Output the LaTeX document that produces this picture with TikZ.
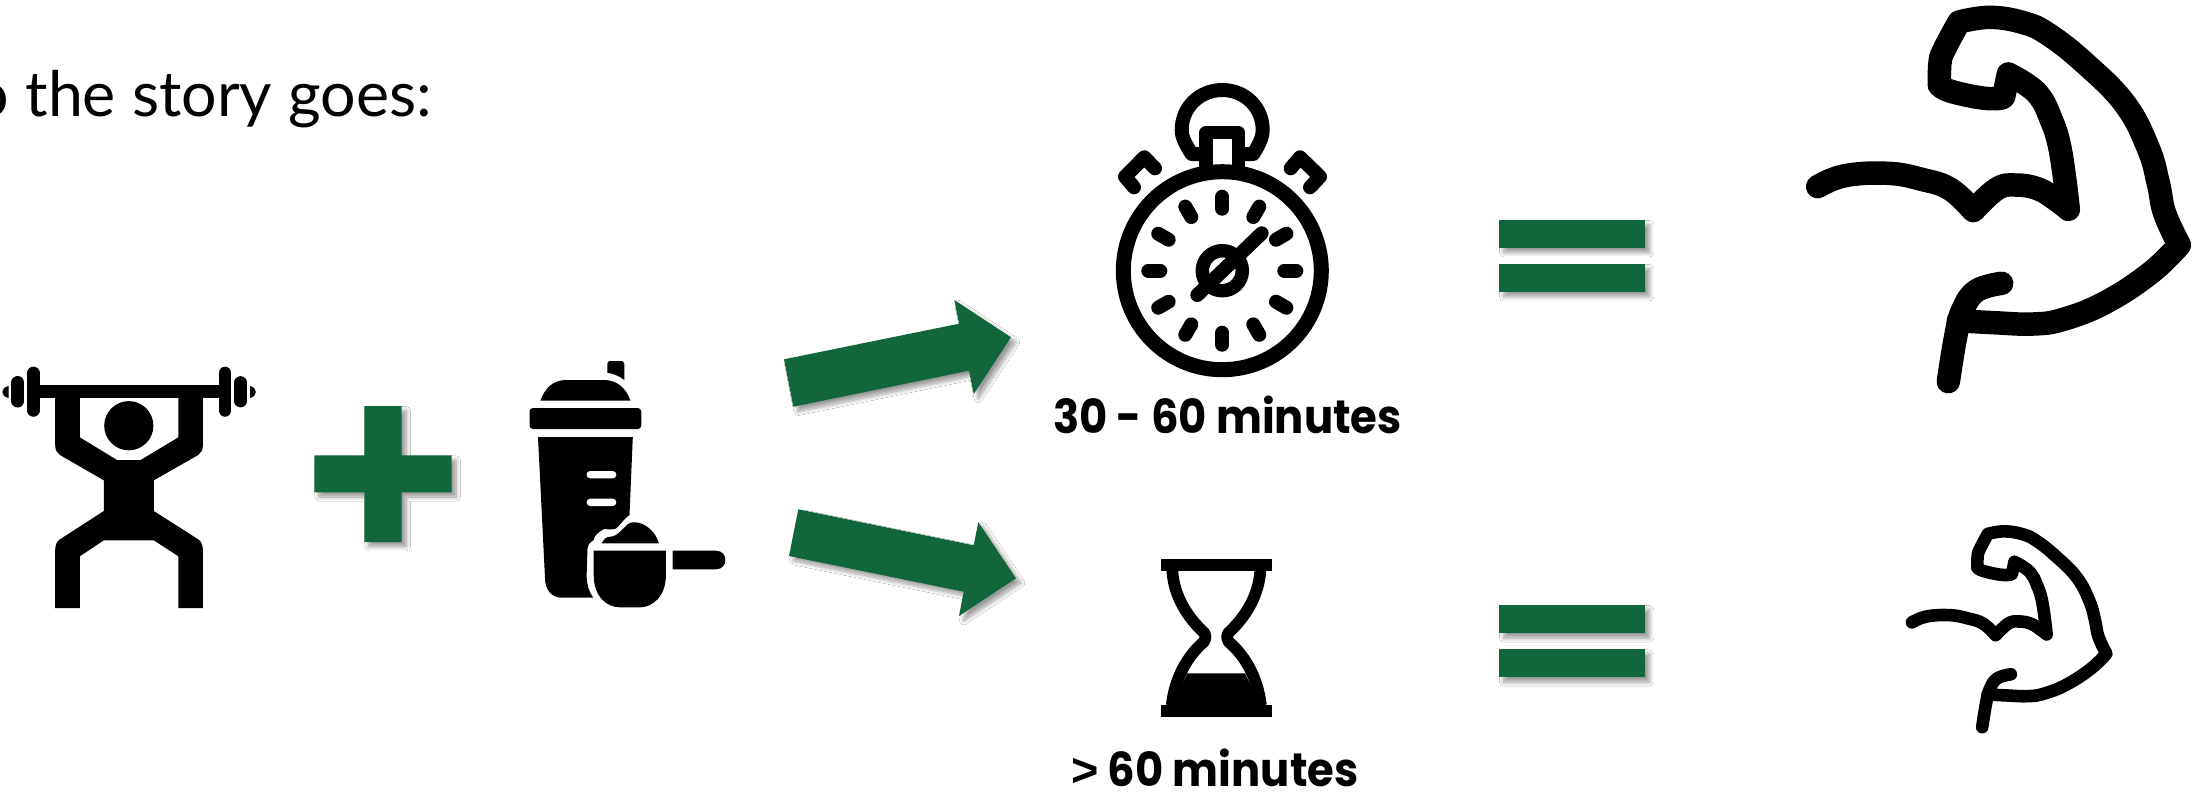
\documentclass[tikz,border=0pt]{standalone}
\usepackage{fontspec}
\usetikzlibrary{calc,shadows.blur}
\newfontfamily\lightfont{Lato}
\newfontfamily\labelfont{Poppins}[BoldFeatures={FakeStretch=0.925}]
\newfontfamily\symbfont{Liberation Sans Bold}
\definecolor{gymgreen}{HTML}{11673B}
\tikzset{
  lw/.style={line width=#1*0.03cm},
  ink/.style={fill=black,draw=none},
  stroke/.style={draw=black,fill=none,lw=#1,line cap=round,line join=round},
  greenshape/.style={fill=gymgreen,draw=none,blur shadow={shadow xshift=4pt,shadow yshift=-4pt,shadow blur radius=3.5pt,shadow blur steps=16,shadow opacity=40}},
  storytext/.style={font=\lightfont\fontsize{53.5}{64}\selectfont,inner sep=0pt,anchor=base east},
  minutetext/.style={font=\labelfont\bfseries\fontsize{40}{50}\selectfont,inner sep=0pt,anchor=base},
  muscleline/.style={smooth,tension=0.7},
}
\newcommand\muscle{%
  \draw[stroke=\musclew]
    plot[muscleline] coordinates {(113,560) (195,527) (325,520) (425,538) (510,567) (580,632)}
    -- plot[muscleline] coordinates {(580,632) (650,567) (705,555) (775,567) (835,604) (865,628)}
    -- plot[muscleline] coordinates {(865,628) (840,445) (808,345) (778,288) (737,252) (685,222)}
    -- (672,285)
    -- plot[muscleline] coordinates {(672,285) (660,295) (600,293) (510,273) (478,255)}
    -- plot[muscleline] coordinates {(478,255) (480,188) (492,150) (537,66)}
    -- plot[muscleline] coordinates {(537,66) (630,52) (730,68) (805,103) (915,190) (1035,312) (1105,445) (1135,550) (1154,640) (1198,735)}
    -- plot[muscleline] coordinates {(1198,735) (1110,820) (975,908) (850,958) (760,972) (640,968) (535,962)};
  \draw[stroke=\musclew]
    plot[muscleline] coordinates {(665,850) (590,872) (548,930) (527,1010) (505,1145)};
}
\begin{document}
\begin{tikzpicture}[x=0.03cm,y=-0.03cm]
\useasboundingbox (0,0) rectangle (2202,799);
\fill[white] (0,0) rectangle (2202,799);

% heading
\node[storytext] (story) at (432,116.7) {So the story goes:};

% lifter
\fill[ink] (55.2,398) -- (79.8,398) -- (79.8,437.3) -- (117,460) -- (140.6,460) -- (178.4,437.3) -- (178.4,398) -- (202.9,398) -- (202.9,445)
  .. controls (202.9,450) and (201,453) .. (198.2,455) -- (153.8,480.3) -- (153.8,511) -- (198.2,539.3)
  .. controls (201,541) and (202.9,545) .. (202.9,550) -- (202.9,608) -- (178.4,608) -- (178.4,556.3) -- (153.8,540.3) -- (103.8,540.3) -- (79.8,556.3) -- (79.8,608) -- (55.2,608) -- (55.2,550)
  .. controls (55.2,545) and (57,541) .. (60,539.3) -- (103.8,511) -- (103.8,480.3) -- (60,455)
  .. controls (57,453) and (55.2,450) .. (55.2,445) -- cycle;
\fill[ink] (128.8,425.7) circle (24.6);
\fill[ink] (39.6,385) rectangle (219,398);
\draw[stroke=12.7] (33.25,373) -- (33.25,410.4);
\draw[stroke=13] (17.9,382.5) -- (17.9,401);
\draw[stroke=12.7] (225.1,373) -- (225.1,410.4);
\draw[stroke=12.7] (240.6,382.5) -- (240.6,401);
\fill[ink] (8.5,386) .. controls (4,387) and (2.4,389.5) .. (2.4,392) .. controls (2.4,394.5) and (4,397) .. (8.5,398) -- cycle;
\fill[ink] (250,386) .. controls (254,387) and (255.8,389.5) .. (255.8,392) .. controls (255.8,394.5) and (254,397) .. (250,398) -- cycle;

% plus
\path[greenshape] (364.3,406) -- (401.6,406) -- (401.6,455.3) -- (451.6,455.3) -- (451.6,492.3) -- (401.6,492.3) -- (401.6,542) -- (364.3,542) -- (364.3,492.3) -- (314.3,492.3) -- (314.3,455.3) -- (364.3,455.3) -- cycle;

% shaker
\fill[ink] (607.4,364) .. controls (607.4,362) and (608.5,361) .. (610,361) -- (621.5,361) .. controls (623,361) and (624.3,362) .. (624.3,364) -- (624.3,380) .. controls (618,375) and (612,373.5) .. (607.4,372.7) -- cycle;
\fill[ink] (540.4,400.7) .. controls (545,388) and (553,380) .. (566.3,380) -- (604,380) .. controls (617,380) and (626,388) .. (630.5,400.7) -- cycle;
\fill[ink,rounded corners=3pt] (529.5,408) rectangle (641.3,429);
\fill[ink] (538,437) -- (632.8,437) -- (629.5,515) .. controls (625,518) and (622,522) .. (618.2,526.7) .. controls (614,531) and (609,529) .. (604,529) .. controls (598,532) and (594,536) .. (593.7,540) .. controls (589,543) and (587.5,545) .. (587.5,548.3) -- (586.6,576.7) .. controls (587,585) and (589,592) .. (593.2,597.7) -- (561.6,597.7) .. controls (552,597.7) and (545,590) .. (545,578) -- cycle;
\fill[white,rounded corners=3pt] (586.6,471) rectangle (616.3,478.3);
\fill[white,rounded corners=3pt] (586.6,498.7) rectangle (616.3,506);
\fill[ink] (601.7,543.3) .. controls (604,539) and (606,537) .. (610,536.7) .. controls (618,536) and (620,531) .. (625.3,526.7) .. controls (628,523) and (631,522.3) .. (634.7,522.3) .. controls (645,522.3) and (656,532) .. (658.8,543.3) -- cycle;
\fill[ink] (593.7,550.7) -- (665.9,550.7) -- (665.9,575) .. controls (665.9,597) and (652,607.3) .. (640,607.3) -- (620,607.3) .. controls (607,607.3) and (593.7,597) .. (593.7,575) -- cycle;
\fill[ink] (672.5,550.7) -- (716,550.7) .. controls (722,550.7) and (725.3,555) .. (725.3,560) .. controls (725.3,565) and (722,569.3) .. (716,569.3) -- (672.5,569.3) -- cycle;

% arrows
\path[greenshape] (784,359.3) -- (959,323.7) -- (954.3,300) -- (1011,337.3) -- (973.7,394) -- (969,370.7) -- (793.3,406.7) -- cycle;
\path[greenshape] (798.3,509.3) -- (973.7,545.3) -- (978.3,522) -- (1016,578.3) -- (959,616) -- (963.7,591.7) -- (789,556) -- cycle;

% stopwatch
\draw[stroke=15] (1222.3,270.7) circle (99);
\foreach \a in {0,30,...,330}
  \draw[stroke=14] ($(1222.3,270.7)+(\a:62)$) -- ($(1222.3,270.7)+(\a:74)$);
\draw[stroke=13.5] (1222.3,270.7) circle (20);
\draw[stroke=14] (1197.3,295) -- (1261.7,233.3);
\draw[stroke=13.5] (1206,170) -- (1206,132.7) -- (1238.3,132.7) -- (1238.3,170);
\draw[stroke=14] (1200,154) -- (1191.7,154) .. controls (1184,142) and (1181.7,136) .. (1181.7,130) .. controls (1181.7,107) and (1200,90) .. (1222.3,90) .. controls (1244.6,90) and (1262.7,107) .. (1262.7,130) .. controls (1262.7,136) and (1260.6,142) .. (1253.3,154) -- (1245,154);
\draw[stroke=14] (1155,168.3) -- (1144.3,157.3) -- (1125,176.7) -- (1134,187.3);
\draw[stroke=14] (1290.7,168.3) -- (1300,157.3) -- (1320,176.7) -- (1310,187.3);
\node[minutetext] (label30) at (1227.5,433.3) {\bfseries 30 - 60 minutes};

% hourglass
\fill[ink] (1161,559) rectangle (1271.7,570.7);
\fill[ink] (1161,705.3) rectangle (1271.7,716.7);
\draw[stroke=11.7,line cap=butt] (1172.3,570.7) .. controls (1174,597) and (1188.3,618.3) .. (1204.7,633.3) .. controls (1206,636) and (1206,639.3) .. (1204,641.7) .. controls (1188.3,655) and (1175,676.7) .. (1171.7,705.3);
\draw[stroke=11.7,line cap=butt] (1260.3,570.7) .. controls (1258.6,597) and (1244.3,618.3) .. (1227.9,633.3) .. controls (1226.6,636) and (1226.6,639.3) .. (1228.6,641.7) .. controls (1244.3,655) and (1257.6,676.7) .. (1260.9,705.3);
\fill[ink] (1187.3,673.3) -- (1245,673.3) -- (1260.9,705.3) -- (1171.7,705.3) -- cycle;
\node[minutetext] (label60) at (1215,786.5) {{\symbfont >} \bfseries 60 minutes};

% equals signs
\path[greenshape] (1499,220) rectangle (1645,248);
\path[greenshape] (1499,264) rectangle (1645,292);
\path[greenshape] (1499,605) rectangle (1645,633.3);
\path[greenshape] (1499,649.3) rectangle (1645,677.3);

% muscles
\def\musclew{23.5}
\begin{scope}[shift={(1780,0)},scale=1/3]
\muscle
\end{scope}
\def\musclew{12.6}
\begin{scope}[shift={(1891.7,522)},scale=0.5375/3]
\muscle
\end{scope}
\end{tikzpicture}
\end{document}
